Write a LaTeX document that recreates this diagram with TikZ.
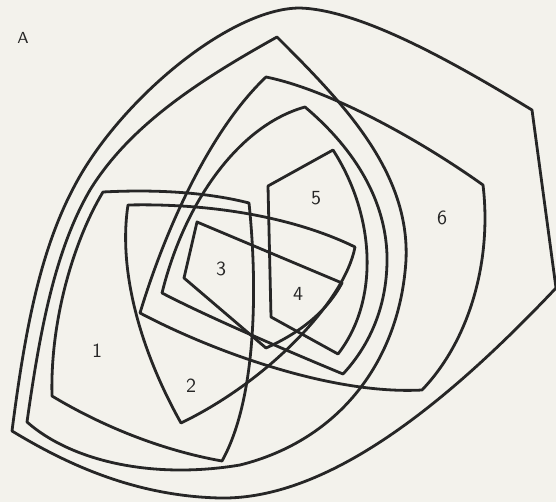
\documentclass[tikz,border=0pt]{standalone}
\usepackage{tikz}
\usetikzlibrary{positioning}
\definecolor{paper}{RGB}{243,242,236}
\definecolor{ink}{RGB}{38,38,38}

\begin{document}
\begin{tikzpicture}[x=0.5pt,y=-0.5pt,line join=round]
		\tikzstyle{rand}=[draw=ink,line width=1.4pt]
		\tikzstyle{ziffer}=[text=ink,font=\sffamily,inner sep=1pt]
		
		\fill[paper] (0,0) rectangle (556,502);
		\useasboundingbox (0,0) rectangle (556,502);
		
		% aeusserste Kurve
		\draw[rand] (12,431) .. controls (25,330) and (40,250) .. (75,185)
			.. controls (120,100) and (230,8) .. (300,8)
			.. controls (360,10) and (450,60) .. (532,110)
			-- (556,288)
			.. controls (450,400) and (330,500) .. (220,498)
			.. controls (130,496) and (60,460) .. (12,431) -- cycle;
		% zweite Kurve
		\draw[rand] (27,422) .. controls (40,330) and (55,250) .. (90,190)
			.. controls (130,125) and (200,80) .. (277,37)
			.. controls (340,100) and (410,170) .. (406,260)
			.. controls (400,360) and (340,440) .. (240,465)
			.. controls (150,480) and (70,460) .. (27,422) -- cycle;
		% Feld 6
		\draw[rand] (266,77) .. controls (330,90) and (420,140) .. (483,185)
			.. controls (492,260) and (470,340) .. (422,390)
			.. controls (330,395) and (210,350) .. (140,313)
			.. controls (165,230) and (210,130) .. (266,77) -- cycle;
		\draw[rand] (305,107) .. controls (350,145) and (385,195) .. (387,255)
			.. controls (388,305) and (370,345) .. (343,374)
			.. controls (290,352) and (210,318) .. (162,293)
			.. controls (185,200) and (240,125) .. (305,107) -- cycle;
		% Feld 5
		\draw[rand] (268,186) -- (333,150)
			.. controls (375,215) and (380,300) .. (338,354)
			-- (271,317) -- cycle;
		% Feld 3
		\draw[rand] (197,222) -- (342,283)
			.. controls (325,315) and (295,335) .. (266,348)
			-- (184,278) -- cycle;
		% Feld 2
		\draw[rand] (128,205) .. controls (220,203) and (300,220) .. (355,247)
			.. controls (345,300) and (270,380) .. (181,423)
			.. controls (140,350) and (118,270) .. (128,205) -- cycle;
		% Feld 1
		\draw[rand] (103,192) .. controls (160,189) and (210,193) .. (249,203)
			.. controls (258,290) and (256,400) .. (222,461)
			.. controls (160,450) and (100,425) .. (52,396)
			.. controls (50,320) and (74,240) .. (103,192) -- cycle;
		
		\node[ziffer,font=\sffamily\footnotesize] (labA) at (23,38) {A};
		\node[ziffer] (lab1) at (97,351) {1};
		\node[ziffer] (lab2) at (191,386) {2};
		\node[ziffer] (lab3) at (221,269) {3};
		\node[ziffer] (lab4) at (298,294) {4};
		\node[ziffer] (lab5) at (316,198) {5};
		\node[ziffer] (lab6) at (442,218) {6};
	\end{tikzpicture}
\end{document}
